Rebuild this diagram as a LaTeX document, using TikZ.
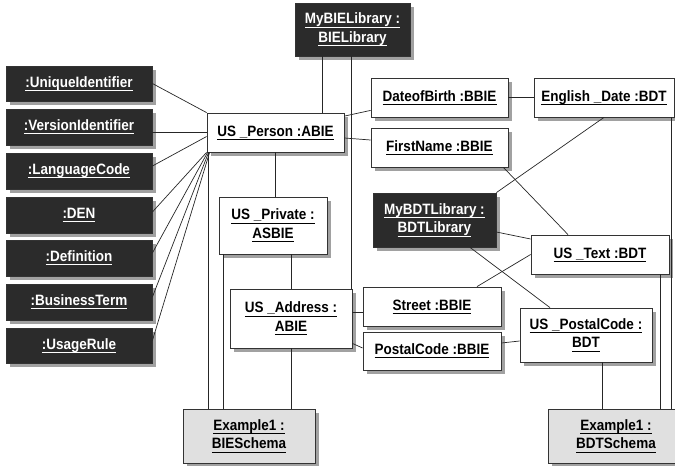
\documentclass[tikz,border=0pt]{standalone}
\usepackage{fontspec}
\setmainfont[FakeStretch=0.9]{Liberation Sans}
\usetikzlibrary{shadows}

% underlined label with a fixed rule depth
\newcommand{\ulabel}[1]{\setbox0\hbox{#1}\rlap{\rule[-3.4pt]{\wd0}{0.8pt}}\box0}

\tikzset{
  obj/.style={draw=black!80, line width=0.8pt, fill=white, inner sep=0pt, align=center,
    font=\fontsize{15}{18.5}\selectfont\bfseries,
    drop shadow={shadow xshift=4pt, shadow yshift=-4pt, fill=black!37, opacity=1}},
  libobj/.style={obj, fill=black!83, text=white},
  schemaobj/.style={obj, fill=black!12},
  link/.style={draw=black!85, line width=0.7pt}
}

\begin{document}
\begin{tikzpicture}[x=1pt, y=-1pt]
      \useasboundingbox (0,0) rectangle (675,466);

      % Libraries
      \node[libobj, minimum width=115pt, minimum height=53pt] (bielib) at (352.5,29.5) {\ulabel{MyBIELibrary :}\\\ulabel{BIELibrary}};
      \node[libobj, minimum width=123pt, minimum height=54pt] (bdtlib) at (434.5,220) {\ulabel{MyBDTLibrary :}\\\ulabel{BDTLibrary}};

      % Tagged values
      \node[libobj, minimum width=146pt, minimum height=35pt] (uid) at (79,83.5) {\ulabel{:UniqueIdentifier}};
      \node[libobj, minimum width=146pt, minimum height=36pt] (vid) at (79,127) {\ulabel{:VersionIdentifier}};
      \node[libobj, minimum width=146pt, minimum height=36pt] (lang) at (79,171) {\ulabel{:LanguageCode}};
      \node[libobj, minimum width=146pt, minimum height=36pt] (den) at (79,215) {\ulabel{:DEN}};
      \node[libobj, minimum width=146pt, minimum height=36pt] (defn) at (79,258) {\ulabel{:Definition}};
      \node[libobj, minimum width=146pt, minimum height=36pt] (bterm) at (79,302) {\ulabel{:BusinessTerm}};
      \node[libobj, minimum width=146pt, minimum height=35pt] (urule) at (79,345.5) {\ulabel{:UsageRule}};

      % Business information entities
      \node[obj, minimum width=137pt, minimum height=39pt] (person) at (275.5,132.5) {\ulabel{US \_Person :ABIE}};
      \node[obj, minimum width=108pt, minimum height=57pt] (private) at (273,225.5) {\ulabel{US \_Private :}\\\ulabel{ASBIE}};
      \node[obj, minimum width=122pt, minimum height=59pt] (address) at (291,318.5) {\ulabel{US \_Address :}\\\ulabel{ABIE}};
      \node[obj, minimum width=137pt, minimum height=39pt] (dob) at (439.5,97.5) {\ulabel{DateofBirth :BBIE}};
      \node[obj, minimum width=137pt, minimum height=39pt] (fname) at (439.5,147.5) {\ulabel{FirstName :BBIE}};
      \node[obj, minimum width=138pt, minimum height=39pt] (street) at (432,306.5) {\ulabel{Street :BBIE}};
      \node[obj, minimum width=138pt, minimum height=38pt] (pcode) at (432,351) {\ulabel{PostalCode :BBIE}};

      % Data types
      \node[obj, minimum width=140pt, minimum height=39pt] (engdate) at (604,97.5) {\ulabel{English \_Date :BDT}};
      \node[obj, minimum width=138pt, minimum height=39pt] (ustext) at (600,254.5) {\ulabel{US \_Text :BDT}};
      \node[obj, minimum width=132pt, minimum height=54pt] (uspcode) at (586,335) {\ulabel{US \_PostalCode :}\\\ulabel{BDT}};

      % Schemas
      \node[schemaobj, minimum width=132pt, minimum height=54pt] (bieschema) at (249,436) {\ulabel{Example1 :}\\\ulabel{BIESchema}};
      \node[schemaobj, minimum width=136pt, minimum height=54pt] (bdtschema) at (616,436) {\ulabel{Example1 :}\\\ulabel{BDTSchema}};

      % Tagged values to US_Person
      \draw[link] (uid.east) -- (person.north west);
      \draw[link] (vid.east |- person.west) -- (person.west);
      \draw[link] ([yshift=5pt]lang.east) -- ([yshift=-4pt]person.west);
      \draw[link] ([yshift=3pt]den.east) -- (person.south west);
      \draw[link] ([yshift=5pt]defn.east) -- ([xshift=1pt]person.south west);
      \draw[link] ([yshift=5pt]bterm.east) -- ([xshift=2pt]person.south west);
      \draw[link] ([yshift=5pt]urule.east) -- ([xshift=3pt]person.south west);

      % BIE structure
      \draw[link] ([xshift=-30.5pt]bielib.south) -- ([xshift=-30.5pt]bielib.south |- person.north);
      \draw[link] ([xshift=-1.5pt]address.north east |- bielib.south) -- ([xshift=-1.5pt]address.north east);
      \draw[link] (private.north -| person.south) -- (person.south);
      \draw[link] (address.north) -- (address.north |- private.south);
      \draw[link] ([yshift=-3.5pt]person.north east) -- ([yshift=7pt]dob.south west);
      \draw[link] ([yshift=-5.5pt]person.east) -- ([yshift=7.5pt]fname.west);
      \draw[link] ([yshift=-5.5pt]street.west) -- ([yshift=-5.5pt]street.west -| address.east);
      \draw[link] ([yshift=3pt]pcode.west) -- ([yshift=5pt]address.south east);

      % BBIEs to data types
      \draw[link] (dob.east) -- (engdate.west);
      \draw[link] ([xshift=-5pt]fname.south east) -- ([xshift=-32pt]ustext.north);
      \draw[link] (ustext.west) -- ([xshift=45pt]street.north);
      \draw[link] ([yshift=8pt]pcode.east) -- ([yshift=-6pt]uspcode.west);

      % Library links
      \draw[link] (engdate.south) -- (bdtlib.north east);
      \draw[link] ([yshift=-12pt]bdtlib.east) -- ([yshift=15.5pt]ustext.west);
      \draw[link] ([xshift=35.5pt]bdtlib.south) -- ([xshift=-36pt]uspcode.north);

      % Schema links
      \draw[link] ([xshift=1.5pt]person.south west) -- ([xshift=1.5pt]person.south west |- bieschema.north);
      \draw[link] ([xshift=5pt]private.south west) -- ([xshift=5pt]private.south west |- bieschema.north);
      \draw[link] (address.south) -- (address.south |- bieschema.north);
      \draw[link] ([xshift=16pt]uspcode.south) -- ([xshift=16pt]uspcode.south |- bdtschema.north);
      \draw[link] ([xshift=60pt]ustext.south) -- ([xshift=60pt]ustext.south |- bdtschema.north);
      \draw[link] ([xshift=67pt]engdate.south) -- ([xshift=67pt]engdate.south |- bdtschema.north);
\end{tikzpicture}
\end{document}
